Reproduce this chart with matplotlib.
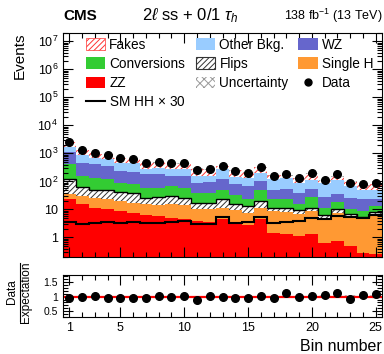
import numpy as np
import matplotlib
matplotlib.use('Agg')
import matplotlib.pyplot as plt
from matplotlib.patches import Patch
from matplotlib.lines import Line2D
from matplotlib.ticker import FixedLocator, MultipleLocator, LogLocator, FuncFormatter, NullFormatter

plt.rcParams['font.family'] = ['Liberation Sans', 'DejaVu Sans']
plt.rcParams['mathtext.fontset'] = 'custom'
plt.rcParams['mathtext.rm'] = 'Liberation Sans'
plt.rcParams['mathtext.it'] = 'Liberation Sans:italic'
plt.rcParams['mathtext.bf'] = 'Liberation Sans:bold'
plt.rcParams['mathtext.fallback'] = 'stixsans'
plt.rcParams['hatch.linewidth'] = 0.7

# per-bin yields
bins = np.arange(1, 26)
zz = [24, 15.1, 11.5, 10.5, 8.7, 7.6, 6.2, 5.8, 5.0, 4.7, 3.8, 3.5, 4.7, 2.9, 2.7,
      4.4, 1.48, 1.29, 1.12, 1.35, 0.65, 0.74, 0.49, 0.28, 0.25]
single_h = [12.3, 15.1, 14.8, 13.5, 11.3, 9.8, 8.9, 8.3, 10.1, 9.4, 6.2, 6.5, 6.8, 6.6, 4.9,
            7.1, 7.2, 7.0, 5.5, 7.2, 3.5, 6.9, 5.3, 4.1, 6.5]
flips = [90, 32.9, 25, 27.3, 21.7, 22.4, 11.2, 14.1, 15.1, 12.2, 7.4, 7.4, 12.5, 6.7, 5.6,
         8.5, 2.8, 2.7, 2.9, 3.0, 2.0, 2.4, 0.85, 1.1, 1.5]
conversions = [291, 99, 84, 75, 47, 37.8, 32.6, 30.7, 37.4, 32.6, 22.4, 22.4, 27.3, 15.4, 10.8,
               31.3, 11.4, 11.9, 6.7, 16.7, 5.3, 8.2, 3.9, 3.2, 4.9]
wz = [731, 306, 272, 229, 145, 146, 119, 119, 94, 96, 49, 55.7, 66, 46, 43.6,
      51, 28.4, 32, 23.6, 27, 16.7, 16.5, 15.8, 14.2, 9.7]
other_bkg = [590, 383, 301, 262, 234, 213, 104, 131, 120, 127, 66, 66.5, 152, 70, 61,
             102, 66, 80, 45, 57, 61, 77, 41.3, 26, 28]
fakes = [832, 467, 315, 338, 224, 209, 175, 170, 155, 145, 127, 107, 86, 103, 80,
         120, 49, 31, 44, 79, 16, 43, 30, 23, 30]
data = [2512, 1318, 1047, 912, 661, 617, 437, 490, 437, 437, 251, 282, 355, 234, 204,
        324, 155, 186, 129, 195, 110, 178, 89, 78, 89]
hh_x30 = [3.7, 3.1, 3.3, 3.6, 3.4, 3.5, 3.2, 3.4, 3.6, 3.9, 2.9, 3.1, 5.3, 3.3, 3.5,
          5.3, 3.4, 3.6, 4.0, 4.9, 4.4, 5.7, 5.2, 4.8, 6.5]
unc_rel = [0.03, 0.03, 0.03, 0.03, 0.03, 0.03, 0.03, 0.03, 0.03, 0.03, 0.04, 0.04, 0.04, 0.04, 0.04,
           0.04, 0.04, 0.04, 0.04, 0.04, 0.05, 0.05, 0.05, 0.05, 0.05]
ratio = [0.97, 1.0, 1.03, 0.96, 0.96, 0.96, 0.95, 1.03, 0.99, 1.03, 0.9, 1.04, 0.99, 0.94, 0.97,
         1.01, 0.94, 1.12, 0.99, 1.03, 1.06, 1.14, 0.91, 1.06, 1.10]
ratio_err = [0.03, 0.03, 0.03, 0.03, 0.03, 0.03, 0.03, 0.04, 0.04, 0.04, 0.05, 0.05, 0.05, 0.05, 0.06,
             0.05, 0.06, 0.07, 0.07, 0.06, 0.09, 0.08, 0.08, 0.09, 0.10]

edges = np.arange(0.5, 26, 1)

fig = plt.figure(figsize=(3.84, 3.54), dpi=100)
ax = fig.add_axes([0.164, 0.274, 0.831, 0.633])
ax2 = fig.add_axes([0.164, 0.105, 0.831, 0.118])

styles = [
    (zz, dict(facecolor='#ff0000', edgecolor='none')),
    (single_h, dict(facecolor='#ff9933', edgecolor='none')),
    (flips, dict(facecolor='white', edgecolor='#333333', hatch='//////', lw=0)),
    (conversions, dict(facecolor='#33cc33', edgecolor='none')),
    (wz, dict(facecolor='#6666cc', edgecolor='none')),
    (other_bkg, dict(facecolor='#99ccff', edgecolor='none')),
    (fakes, dict(facecolor='white', edgecolor='#ff3333', hatch='//////', lw=0)),
]
bottom = np.full(len(bins), 1e-3)
tops = []
for vals, kw in styles:
    top = bottom + np.array(vals)
    ax.stairs(top, edges, baseline=bottom, fill=True, **kw)
    tops.append(top)
    bottom = top
total = bottom

# flips outline
ax.stairs(tops[2], edges, baseline=None, color='black', lw=1.0)
# uncertainty
u = np.array(unc_rel)
ax.stairs(total * (1 + u), edges, baseline=total * (1 - u), fill=True,
          facecolor='none', edgecolor='#999999', hatch='xxxx', lw=0)
ax.stairs(hh_x30, edges, baseline=None, color='black', lw=1.5)
ax.plot(bins, data, 'o', color='black', ms=5.5)

ax.set_yscale('log')
ax.set_ylim(0.2, 2e7)
ax.set_xlim(0.5, 25.5)
ax.yaxis.set_major_locator(LogLocator(base=10, numticks=20))
ax.yaxis.set_minor_locator(LogLocator(base=10, subs=np.arange(2, 10), numticks=20))
ax.yaxis.set_minor_formatter(NullFormatter())


def fmt(v, pos):
    if v == 1:
        return '1'
    if v == 10:
        return '10'
    return r'$10^{%d}$' % int(round(np.log10(v)))


ax.yaxis.set_major_formatter(FuncFormatter(fmt))
ax.set_ylabel('Events', fontsize=11, loc='top')
ax.yaxis.set_label_coords(-0.115, 1.0)

for a in (ax, ax2):
    a.xaxis.set_major_locator(FixedLocator([1, 5, 10, 15, 20, 25]))
    a.xaxis.set_minor_locator(MultipleLocator(1))
    a.tick_params(which='both', direction='in', top=True, right=True, labelsize=9)
    a.tick_params(which='major', length=7, width=0.8)
    a.tick_params(which='minor', length=3.5, width=0.8)
ax.tick_params(labelbottom=False)

# ratio panel
ax2.stairs(1 + u, edges, baseline=1 - u, fill=True, facecolor='none',
           edgecolor='#bbbbbb', hatch='xxxx', lw=0)
ax2.axhline(1, color='#ff0000', lw=1.6)
ax2.errorbar(bins, ratio, yerr=ratio_err, fmt='o', color='black', ms=5.5,
             elinewidth=1.0, capsize=0)
ax2.set_xlim(0.5, 25.5)
ax2.set_ylim(0.3, 1.75)
ax2.yaxis.set_major_locator(FixedLocator([0.5, 1, 1.5]))
ax2.yaxis.set_minor_locator(MultipleLocator(0.1))
ax2.yaxis.set_major_formatter(FuncFormatter(lambda v, p: '%g' % v))
ax2.tick_params(axis='y', labelsize=7.5)
ax2.set_xlabel('Bin number', fontsize=11.5, loc='right')

# ratio y title as a stacked fraction
ymid = 1 - 292 / 354
fig.text(12.5 / 384, ymid, 'Data', rotation=90, ha='center', va='center', fontsize=8.5)
fig.text(26 / 384, ymid, 'Expectation', rotation=90, ha='center', va='center', fontsize=8.5)
fig.add_artist(Line2D([19.5 / 384, 19.5 / 384], [1 - 263 / 354, 1 - 321 / 354],
                      color='black', lw=0.8, transform=fig.transFigure))

# legend
handles = [
    Patch(facecolor='white', edgecolor='#ff3333', hatch='//////', lw=0.5),
    Patch(facecolor='#33cc33', edgecolor='none'),
    Patch(facecolor='#ff0000', edgecolor='none'),
    Line2D([], [], color='black', lw=1.5),
    Patch(facecolor='#99ccff', edgecolor='none'),
    Patch(facecolor='white', edgecolor='#333333', hatch='//////', lw=0.8),
    Patch(facecolor='white', edgecolor='#999999', hatch='xxxx', lw=0),
    Patch(facecolor='#6666cc', edgecolor='none'),
    Patch(facecolor='#ff9933', edgecolor='none'),
    Line2D([], [], color='black', marker='o', ms=5, ls='none'),
]
labels = ['Fakes', 'Conversions', 'ZZ', r'SM HH$\,\times\,$30', 'Other Bkg.', 'Flips',
          'Uncertainty', 'WZ', 'Single H', 'Data']
ax.legend(handles, labels, ncol=3, loc='upper left', bbox_to_anchor=(0.045, 1.015),
          frameon=False, fontsize=9.8, handlelength=1.45, handleheight=0.95,
          labelspacing=0.38, columnspacing=0.7, handletextpad=0.3, borderaxespad=0.2)

fig.text(0.164, 0.955, 'CMS', fontsize=11, fontweight='bold', ha='left', va='center')
fig.text(0.495, 0.955, r'$2\ell$ ss + 0/1 $\tau_h$', fontsize=12, ha='center', va='center')
fig.text(0.995, 0.955, r'138 fb$^{-1}$ (13 TeV)', fontsize=9, ha='right', va='center')

fig.savefig('out.png', dpi=100)
